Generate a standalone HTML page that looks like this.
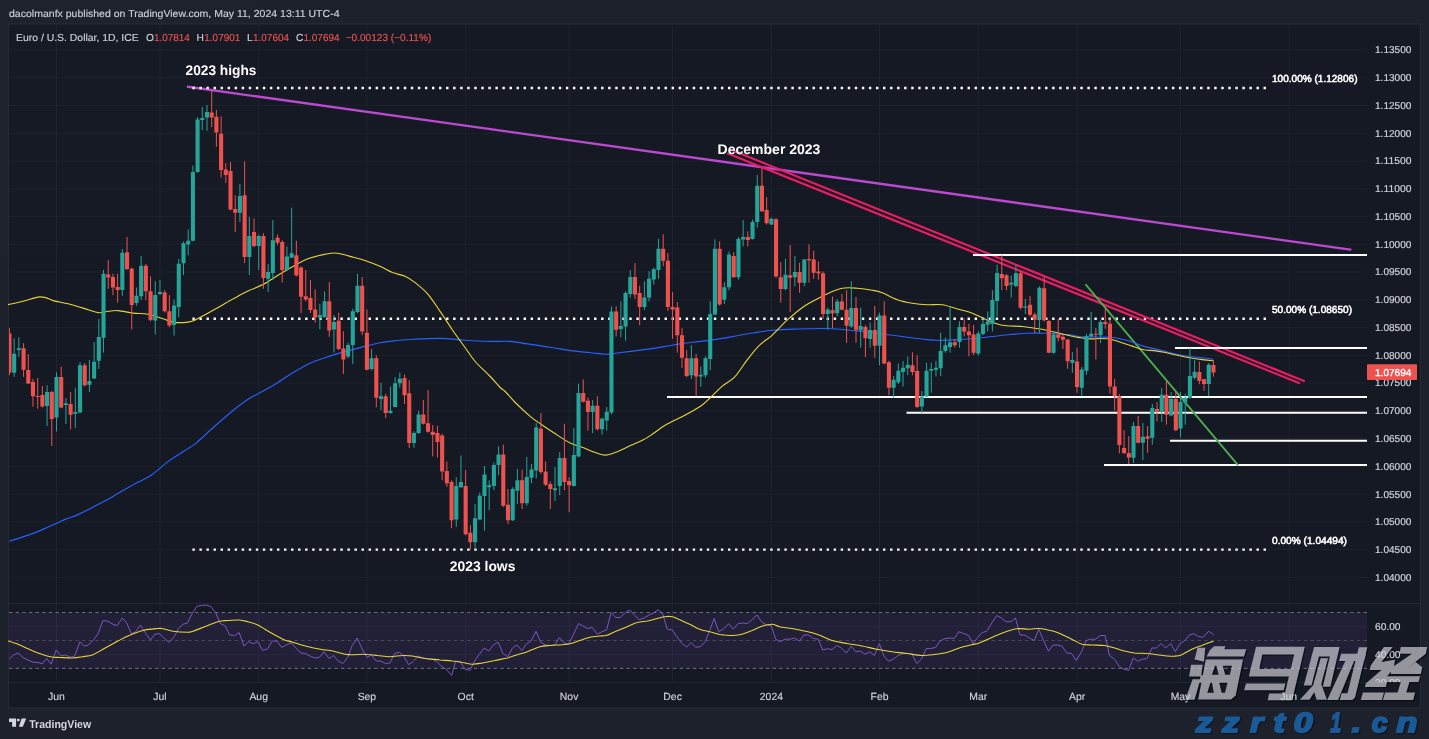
<!DOCTYPE html>
<html><head><meta charset="utf-8"><title>EURUSD chart</title>
<style>html,body{margin:0;padding:0;background:#1e222d;overflow:hidden}body{width:1429px;height:739px;position:relative;font-family:"Liberation Sans",sans-serif}</style></head>
<body>
<svg width="1429" height="739" viewBox="0 0 1429 739" style="position:absolute;left:0;top:0;display:block;will-change:transform;opacity:0.999" font-family="Liberation Sans, sans-serif" text-rendering="geometricPrecision">
<rect x="0" y="0" width="1429" height="739" fill="#1e222d"/>
<rect x="8.6" y="24.0" width="1411.8000000000002" height="684.0" fill="#161a25" stroke="#2a2e39" stroke-width="1"/>
<path d="M9,50.00H1367 M9,77.76H1367 M9,105.52H1367 M9,133.28H1367 M9,161.04H1367 M9,188.80H1367 M9,216.56H1367 M9,244.32H1367 M9,272.08H1367 M9,299.84H1367 M9,327.60H1367 M9,355.36H1367 M9,383.12H1367 M9,410.88H1367 M9,438.64H1367 M9,466.40H1367 M9,494.16H1367 M9,521.92H1367 M9,549.68H1367 M9,577.44H1367 M9,626.3H1367 M9,654.6H1367" stroke="#1e222d" stroke-width="1" fill="none"/>
<path d="M56.5,25V682.5 M159.97,25V682.5 M258.73,25V682.5 M366.9,25V682.5 M465.66,25V682.5 M569.13,25V682.5 M672.59,25V682.5 M771.36,25V682.5 M879.53,25V682.5 M978.29,25V682.5 M1077.05,25V682.5 M1180.52,25V682.5 M1289.2,25V682.5" stroke="#20242f" stroke-width="1" fill="none"/>
<path d="M9,603.5H1420.4 M9,682.5H1420.4" stroke="#232732" stroke-width="1" fill="none"/>
<rect x="9" y="612.5" width="1358" height="55.89999999999998" fill="#7e57c2" fill-opacity="0.12"/>
<path d="M9,612.5H1367 M9,668.4H1367" stroke="#787b86" stroke-width="1" stroke-dasharray="3.4,3.24" fill="none" opacity="0.9"/>
<path d="M9,640.5H1367" stroke="#787b86" stroke-width="1" stroke-dasharray="3.4,3.24" fill="none" opacity="0.45"/>
<path d="M187.9,86.8L1350.4,249.6" stroke="#bc4bd0" stroke-width="2.4" fill="none" stroke-linecap="round"/>
<path d="M192.4,88.0H1266 M192.4,318.7H1266 M192.4,549.6H1266" stroke="#ffffff" stroke-width="2.4" stroke-dasharray="2.4,4.647" fill="none"/>
<path d="M733.9,151L1304,381 M728,153.6L1299,383" stroke="#e91e63" stroke-width="2.2" fill="none" stroke-linecap="round"/>
<path d="M973,255.0H1367 M1175,348.1H1367 M667,397.1H1367 M906.5,412.7H1367 M1170,440.8H1367 M1104,465.1H1367" stroke="#ffffff" stroke-width="2" fill="none"/>
<path d="M1086,284.8L1237.6,464.7" stroke="#4caf50" stroke-width="1.8" fill="none" stroke-linecap="round"/>
<path d="M9.4,541.3 C12.7,540.2 23.4,536.9 29.0,534.9 C34.6,532.9 38.3,531.4 43.0,529.4 C47.7,527.4 53.2,524.7 57.0,523.0 C60.8,521.3 62.2,520.5 65.7,519.1 C69.2,517.7 73.0,516.8 78.0,514.6 C83.0,512.4 89.7,508.8 95.5,505.8 C101.3,502.8 107.2,499.7 113.0,496.4 C118.8,493.1 124.1,489.8 130.5,486.2 C136.9,482.6 145.1,479.1 151.5,474.9 C157.9,470.7 162.2,465.8 169.0,460.9 C175.8,456.0 187.5,449.1 192.6,445.6 C197.7,442.1 195.7,443.4 199.5,440.0 C203.4,436.6 210.2,430.2 215.8,425.3 C221.4,420.3 227.9,414.6 233.3,410.2 C238.8,405.9 244.2,401.8 248.4,399.0 C252.5,396.2 254.2,395.8 258.4,393.5 C262.5,391.2 268.0,388.5 273.4,385.2 C278.8,381.9 285.1,377.5 290.9,373.9 C296.8,370.4 303.0,366.5 308.5,363.9 C313.9,361.3 318.0,360.0 323.5,358.2 C328.9,356.3 334.1,354.6 341.0,352.6 C347.9,350.7 358.5,348.1 365.0,346.4 C371.5,344.7 375.0,343.6 380.0,342.7 C385.0,341.7 389.2,341.3 395.0,340.7 C400.9,340.1 407.6,339.5 415.1,339.2 C422.6,338.8 431.8,338.3 440.1,338.4 C448.5,338.6 456.8,339.7 465.2,340.2 C473.5,340.7 482.7,341.2 490.2,341.4 C497.7,341.6 504.0,341.0 510.2,341.4 C516.5,341.8 520.7,342.9 527.7,343.9 C534.8,345.0 545.3,346.5 552.8,347.7 C560.3,348.9 566.6,350.1 572.8,350.9 C579.1,351.8 584.9,352.1 590.3,352.7 C595.8,353.2 601.2,354.1 605.4,354.2 C609.5,354.3 611.2,353.7 615.4,353.2 C619.5,352.7 624.6,352.1 630.4,351.4 C636.2,350.7 644.6,349.8 650.4,348.9 C656.3,348.1 660.0,347.4 665.5,346.4 C670.9,345.5 677.1,344.3 683.0,343.4 C688.8,342.6 694.0,342.3 700.5,341.4 C707.0,340.6 715.9,339.4 722.0,338.4 C728.1,337.5 731.6,336.7 737.0,335.8 C742.4,334.8 748.7,333.7 754.5,332.8 C760.4,331.8 765.0,330.9 772.1,330.3 C779.2,329.6 788.8,329.3 797.1,329.0 C805.5,328.7 814.6,328.4 822.2,328.5 C829.7,328.6 835.5,329.0 842.2,329.5 C848.9,330.0 855.5,330.8 862.2,331.5 C868.9,332.3 875.6,333.2 882.2,334.0 C888.9,334.8 895.6,335.7 902.3,336.5 C908.9,337.3 916.0,338.4 922.3,339.0 C928.6,339.6 933.6,340.2 939.8,340.3 C946.1,340.4 953.6,339.9 959.9,339.5 C966.1,339.2 972.0,338.8 977.4,338.3 C982.8,337.8 987.0,337.1 992.4,336.5 C997.8,335.9 1004.1,335.1 1009.9,334.5 C1015.8,334.0 1021.2,333.5 1027.5,333.3 C1033.7,333.1 1041.2,333.1 1047.5,333.3 C1053.7,333.5 1061.2,334.3 1065.0,334.5 C1068.8,334.7 1067.6,334.3 1070.1,334.7 C1072.5,335.0 1076.2,336.3 1079.6,336.7 C1083.0,337.0 1086.8,336.8 1090.2,336.8 C1093.7,336.9 1096.9,337.1 1100.3,337.2 C1103.7,337.2 1107.0,336.9 1110.4,337.2 C1113.7,337.5 1117.1,338.2 1120.5,338.9 C1123.8,339.6 1126.6,340.1 1130.5,341.4 C1134.5,342.6 1140.1,345.2 1144.0,346.4 C1147.9,347.6 1150.7,347.8 1154.1,348.6 C1157.4,349.4 1160.2,350.1 1164.1,351.1 C1168.1,352.1 1173.1,353.5 1177.6,354.5 C1182.0,355.4 1186.5,356.2 1191.0,356.8 C1195.5,357.4 1200.7,357.6 1204.4,358.0 C1208.2,358.4 1211.9,359.1 1213.3,359.4" stroke="#2962ff" stroke-width="1.15" fill="none" stroke-linejoin="round"/>
<path d="M8.0,304.6 C10.5,304.0 18.0,302.6 23.0,301.3 C28.0,300.1 34.3,297.7 38.0,297.1 C41.8,296.4 43.1,297.0 45.6,297.6 C48.1,298.1 49.3,299.5 53.1,300.6 C56.8,301.6 63.1,302.6 68.1,303.8 C73.1,305.1 78.1,306.6 83.1,308.1 C88.1,309.5 94.0,312.0 98.1,312.6 C102.3,313.1 104.8,311.7 108.2,311.3 C111.5,311.0 114.0,310.3 118.2,310.6 C122.3,310.9 128.2,312.5 133.2,313.1 C138.2,313.7 143.2,313.4 148.2,314.3 C153.2,315.3 159.1,317.6 163.2,318.8 C167.4,320.1 169.9,321.5 173.2,322.1 C176.6,322.7 180.1,322.7 183.3,322.6 C186.4,322.5 189.1,322.3 192.0,321.3 C194.9,320.4 196.8,319.2 200.8,317.1 C204.8,315.0 210.4,311.9 215.8,308.8 C221.2,305.8 227.9,301.8 233.3,298.8 C238.8,295.8 243.4,293.2 248.4,290.8 C253.4,288.4 258.4,286.9 263.4,284.3 C268.4,281.7 273.4,278.0 278.4,275.0 C283.4,272.0 288.4,269.0 293.4,266.3 C298.4,263.5 302.2,260.8 308.5,258.6 C314.7,256.5 325.6,254.0 331.0,253.3 C336.4,252.5 337.2,253.3 341.0,254.0 C344.8,254.7 349.5,256.2 353.5,257.3 C357.5,258.3 360.6,258.9 365.0,260.4 C369.4,261.9 375.4,264.3 380.0,266.3 C384.6,268.3 388.4,270.9 392.5,272.6 C396.7,274.2 401.3,274.7 405.1,276.3 C408.8,278.0 411.3,279.7 415.1,282.6 C418.8,285.5 423.4,289.1 427.6,293.9 C431.8,298.7 435.9,305.3 440.1,311.4 C444.3,317.4 448.5,324.1 452.6,330.2 C456.8,336.2 461.4,342.5 465.2,347.7 C468.9,352.9 471.0,356.7 475.2,361.5 C479.3,366.3 486.0,372.1 490.2,376.5 C494.4,380.8 497.7,385.0 500.2,387.5 C502.7,390.0 502.7,389.0 505.2,391.5 C507.7,394.0 511.1,398.4 515.2,402.5 C519.4,406.7 526.1,412.8 530.2,416.3 C534.4,419.9 536.1,420.9 540.3,423.8 C544.4,426.7 550.3,430.6 555.3,433.8 C560.3,437.1 565.7,440.8 570.3,443.1 C574.9,445.4 578.7,446.0 582.8,447.6 C587.0,449.2 591.5,451.4 595.3,452.6 C599.2,453.9 602.4,455.3 606.1,455.1 C609.9,454.9 613.8,453.0 617.9,451.4 C621.9,449.8 626.2,447.5 630.4,445.6 C634.6,443.7 639.2,442.1 642.9,440.1 C646.7,438.1 649.2,436.3 652.9,433.8 C656.7,431.3 660.4,428.0 665.5,425.1 C670.5,422.2 677.1,419.4 683.0,416.3 C688.8,413.2 695.9,409.4 700.5,406.3 C705.1,403.2 706.9,400.9 710.5,397.5 C714.1,394.2 718.0,389.8 722.0,386.4 C726.0,383.0 730.3,381.6 734.5,377.2 C738.7,372.8 742.9,365.5 747.0,360.2 C751.2,354.8 755.4,349.3 759.6,345.2 C763.7,341.0 767.5,339.4 772.1,335.3 C776.7,331.1 782.1,324.8 787.1,320.2 C792.1,315.7 797.1,311.3 802.1,307.7 C807.1,304.2 812.6,301.5 817.1,299.0 C821.7,296.5 825.5,294.5 829.7,292.7 C833.8,290.9 837.6,288.9 842.2,288.2 C846.8,287.4 852.2,287.9 857.2,288.2 C862.2,288.5 868.1,289.4 872.2,290.2 C876.4,290.9 878.1,291.1 882.2,292.7 C886.4,294.3 892.3,298.0 897.3,299.7 C902.3,301.5 907.3,302.4 912.3,303.2 C917.3,304.0 922.3,304.5 927.3,304.7 C932.3,305.0 937.3,304.0 942.3,304.7 C947.3,305.4 952.3,307.6 957.4,309.0 C962.4,310.4 967.4,311.4 972.4,313.2 C977.4,315.1 982.4,318.2 987.4,320.2 C992.4,322.2 996.6,324.2 1002.4,325.2 C1008.3,326.3 1016.2,325.9 1022.5,326.5 C1028.7,327.1 1034.1,328.0 1040.0,329.0 C1045.8,330.0 1052.5,331.6 1057.5,332.8 C1062.5,333.9 1066.4,335.0 1070.1,335.8 C1073.8,336.7 1076.2,337.1 1079.6,337.6 C1083.0,338.1 1086.8,338.7 1090.2,338.9 C1093.7,339.0 1096.9,338.5 1100.3,338.5 C1103.7,338.6 1107.0,338.6 1110.4,339.2 C1113.7,339.8 1117.1,341.2 1120.5,342.2 C1123.8,343.3 1126.6,344.3 1130.5,345.6 C1134.5,346.8 1140.1,348.9 1144.0,349.8 C1147.9,350.6 1150.7,350.2 1154.1,350.6 C1157.4,351.0 1160.2,351.5 1164.1,352.3 C1168.1,353.1 1173.1,354.4 1177.6,355.3 C1182.0,356.3 1186.5,357.2 1191.0,358.0 C1195.5,358.7 1200.7,359.5 1204.4,359.9 C1208.2,360.4 1211.9,360.6 1213.3,360.8" stroke="#e9d63a" stroke-width="1.1" fill="none" stroke-linejoin="round"/>
<g clip-path="url(#cp)">
<path d="M14.17,338.3V376.9 M18.88,337.3V356.8 M47.09,385.2V426.0 M56.50,372.2V431.5 M65.91,397.9V424.0 M75.31,387.8V427.8 M80.02,362.1V413.4 M89.42,360.0V391.9 M94.12,342.0V378.9 M98.83,319.0V368.9 M103.53,270.0V352.6 M122.34,249.0V295.8 M136.45,287.5V305.8 M141.15,256.0V300.1 M155.26,281.3V334.6 M159.97,280.0V295.1 M174.07,299.6V335.6 M178.78,259.0V317.1 M183.48,241.5V275.0 M188.18,229.5V255.3 M192.89,165.6V241.5 M197.59,117.0V172.6 M202.29,107.0V130.1 M207.00,105.0V130.8 M239.92,183.9V222.0 M249.32,216.9V275.0 M258.73,234.5V270.0 M268.13,263.8V292.1 M272.84,220.2V280.0 M286.95,246.5V271.3 M291.65,207.7V257.8 M319.87,303.8V329.4 M324.57,291.3V317.6 M333.98,315.1V352.6 M348.09,342.6V358.2 M352.79,308.8V363.9 M357.49,273.8V313.1 M371.60,348.9V370.2 M381.01,382.7V410.1 M390.41,386.5V413.8 M395.12,377.2V407.5 M399.82,372.7V387.7 M413.93,431.3V447.6 M418.63,410.8V433.8 M456.26,477.2V527.0 M460.96,455.6V487.7 M475.07,503.9V547.8 M479.77,492.7V520.2 M484.47,465.9V530.7 M489.18,480.2V510.2 M493.88,462.6V490.2 M498.58,446.4V475.2 M512.69,487.2V521.0 M517.39,468.9V503.9 M526.80,456.9V505.7 M531.50,463.9V483.2 M536.21,423.1V478.4 M555.02,467.1V500.9 M559.72,452.1V495.2 M573.83,428.1V486.4 M578.53,383.8V457.1 M592.64,400.0V433.1 M602.05,417.6V434.6 M606.75,407.0V430.6 M611.45,306.4V414.3 M620.86,301.4V337.2 M625.56,291.3V340.7 M630.27,270.1V297.6 M644.38,281.3V310.1 M649.08,271.3V301.4 M653.78,267.6V284.6 M658.48,238.8V278.8 M691.41,345.2V379.0 M700.81,366.5V386.8 M705.51,356.4V377.7 M710.22,301.4V370.2 M714.92,239.3V315.1 M724.33,282.2V304.0 M729.03,251.4V290.2 M738.44,237.1V279.7 M743.14,220.1V246.4 M752.54,219.6V239.6 M757.25,175.0V227.6 M771.36,217.6V225.1 M785.47,258.9V290.2 M794.87,255.9V286.4 M804.28,258.9V286.4 M827.79,307.7V329.5 M837.20,299.0V316.5 M851.31,281.3V327.8 M860.71,307.6V347.7 M870.12,322.6V347.7 M879.53,312.6V365.2 M893.63,376.0V397.7 M898.34,363.4V384.0 M903.04,360.9V386.5 M907.74,356.4V375.2 M921.85,391.0V412.8 M926.56,362.7V397.2 M931.26,362.7V392.7 M935.96,360.9V376.5 M940.66,332.8V376.0 M945.37,337.6V352.7 M950.07,307.1V352.7 M959.48,321.4V347.7 M978.29,331.4V355.7 M982.99,317.6V335.3 M987.69,311.4V331.5 M992.40,290.2V331.5 M997.10,264.7V316.5 M1011.21,275.7V297.7 M1015.91,265.2V287.2 M1025.32,299.0V314.0 M1039.43,286.4V332.8 M1053.54,331.4V353.9 M1072.35,352.0V372.7 M1081.75,366.8V395.7 M1086.46,333.8V375.0 M1091.16,312.0V337.2 M1100.57,320.1V343.1 M1133.49,421.9V462.9 M1142.89,423.1V460.0 M1152.30,404.1V444.6 M1161.71,388.1V421.9 M1171.11,392.0V416.3 M1180.52,392.0V437.7 M1185.22,393.7V424.7 M1189.92,348.1V398.7 M1194.63,360.1V379.4 M1208.74,363.1V396.2" stroke="#26a69a" stroke-width="1.0" fill="none"/>
<path d="M9.47,328.2V375.1 M23.58,343.2V376.9 M28.28,354.1V384.0 M32.98,378.9V406.7 M37.69,378.1V408.8 M42.39,386.0V407.5 M51.80,390.7V446.0 M61.20,366.7V408.3 M70.61,391.9V429.5 M84.72,363.0V386.5 M108.23,260.0V288.8 M112.94,273.8V295.1 M117.64,273.8V302.6 M127.05,237.0V270.0 M131.75,267.5V329.4 M145.86,264.0V300.1 M150.56,276.3V321.3 M164.67,290.1V312.6 M169.37,295.1V327.1 M211.70,90.5V127.1 M216.40,110.0V146.8 M221.11,116.3V177.6 M225.81,163.1V183.1 M230.51,162.1V210.2 M235.21,195.2V232.0 M244.62,161.4V263.0 M254.03,218.5V247.2 M263.43,233.2V288.8 M277.54,234.5V245.2 M282.24,240.2V282.5 M296.35,240.7V276.3 M301.06,266.3V313.1 M305.76,270.0V301.3 M310.46,280.0V313.1 M315.17,289.3V322.6 M329.27,282.0V336.9 M338.68,312.6V350.1 M343.38,331.4V373.9 M362.19,277.0V335.1 M366.90,309.6V370.2 M376.30,355.2V407.3 M385.71,393.8V418.1 M404.52,374.5V404.0 M409.23,380.2V448.1 M423.33,400.0V424.6 M428.04,390.0V432.6 M432.74,425.1V456.4 M437.44,425.8V457.6 M442.15,433.8V480.2 M446.85,461.4V486.9 M451.55,480.2V528.2 M465.66,470.1V535.2 M470.36,525.2V549.5 M503.29,444.6V506.9 M507.99,488.9V524.0 M522.10,469.6V509.0 M540.91,413.1V473.9 M545.61,461.4V485.9 M550.32,481.4V509.0 M564.42,423.8V490.2 M569.13,477.2V512.2 M583.24,379.3V402.5 M587.94,397.5V430.6 M597.35,396.3V430.6 M616.16,306.4V336.4 M634.97,263.1V298.9 M639.67,285.8V325.2 M663.19,234.3V266.3 M667.89,253.0V310.9 M672.59,292.1V338.9 M677.30,302.1V352.7 M682.00,328.2V367.7 M686.70,350.2V377.2 M696.11,353.9V396.3 M719.62,241.3V305.6 M733.73,252.1V277.7 M747.84,231.4V246.4 M761.95,168.8V212.1 M766.65,197.1V224.6 M776.06,218.1V277.7 M780.76,262.2V302.7 M790.17,245.1V312.0 M799.57,262.7V292.7 M808.98,244.4V282.7 M813.68,250.9V278.9 M818.39,261.4V279.7 M823.09,271.4V319.0 M832.50,296.5V328.3 M841.90,294.0V310.2 M846.60,290.2V342.8 M856.01,297.1V342.7 M865.42,325.1V357.2 M874.82,305.8V357.7 M884.23,301.3V364.4 M888.93,360.7V395.2 M912.45,352.2V375.2 M917.15,355.2V407.8 M954.77,338.9V347.7 M964.18,318.1V336.4 M968.88,323.9V356.4 M973.59,325.1V355.2 M1001.80,255.1V290.2 M1006.51,273.9V290.2 M1020.62,271.4V309.5 M1030.02,296.0V316.5 M1034.72,312.7V332.8 M1044.13,276.4V321.5 M1048.83,320.1V353.2 M1058.24,318.9V341.4 M1062.94,334.7V348.9 M1067.64,338.9V368.8 M1077.05,347.7V392.8 M1095.86,327.9V359.4 M1105.27,307.8V328.8 M1109.97,317.9V393.7 M1114.67,379.1V410.5 M1119.38,394.0V453.3 M1124.08,430.1V454.1 M1128.78,436.2V464.2 M1138.19,416.0V443.2 M1147.60,426.1V452.8 M1157.00,402.1V421.4 M1166.41,381.1V424.7 M1175.81,392.0V431.0 M1199.33,361.5V384.2 M1204.03,378.8V390.9 M1213.44,360.2V376.7" stroke="#ef5350" stroke-width="1.0" fill="none"/>
<path d="M12.12,353.7h4.1V372.7h-4.1z M16.83,348.2h4.1V349.9h-4.1z M45.04,392.0h4.1V406.1h-4.1z M54.45,376.9h4.1V417.6h-4.1z M63.86,403.3h4.1V405.0h-4.1z M73.26,412.0h4.1V413.7h-4.1z M77.97,365.2h4.1V412.5h-4.1z M87.37,381.0h4.1V384.8h-4.1z M92.07,361.8h4.1V378.6h-4.1z M96.78,336.9h4.1V360.8h-4.1z M101.48,273.8h4.1V337.8h-4.1z M120.29,252.8h4.1V290.1h-4.1z M134.40,295.8h4.1V303.1h-4.1z M139.10,265.8h4.1V296.3h-4.1z M153.21,295.1h4.1V320.6h-4.1z M157.92,292.1h4.1V294.1h-4.1z M172.02,305.6h4.1V325.1h-4.1z M176.73,263.8h4.1V307.1h-4.1z M181.43,243.2h4.1V263.3h-4.1z M186.13,240.7h4.1V244.5h-4.1z M190.84,172.1h4.1V240.7h-4.1z M195.54,119.6h4.1V172.1h-4.1z M200.24,118.0h4.1V120.1h-4.1z M204.95,112.0h4.1V117.5h-4.1z M237.87,195.9h4.1V212.7h-4.1z M247.27,236.0h4.1V257.0h-4.1z M256.68,236.0h4.1V246.0h-4.1z M266.08,272.0h4.1V278.8h-4.1z M270.79,240.2h4.1V273.0h-4.1z M284.90,256.5h4.1V270.0h-4.1z M289.60,253.3h4.1V257.8h-4.1z M317.82,315.1h4.1V317.6h-4.1z M322.52,301.3h4.1V317.1h-4.1z M331.93,322.1h4.1V329.6h-4.1z M346.04,345.1h4.1V356.4h-4.1z M350.74,311.3h4.1V345.1h-4.1z M355.44,285.8h4.1V312.1h-4.1z M369.55,358.2h4.1V369.0h-4.1z M378.96,396.3h4.1V399.0h-4.1z M388.36,410.8h4.1V413.1h-4.1z M393.07,383.2h4.1V407.0h-4.1z M397.77,378.8h4.1V383.2h-4.1z M411.88,433.1h4.1V443.1h-4.1z M416.58,414.6h4.1V433.1h-4.1z M454.21,485.9h4.1V519.5h-4.1z M458.91,481.9h4.1V487.2h-4.1z M473.02,518.2h4.1V542.3h-4.1z M477.72,495.7h4.1V519.5h-4.1z M482.42,474.4h4.1V495.9h-4.1z M487.13,485.2h4.1V487.2h-4.1z M491.83,465.1h4.1V485.9h-4.1z M496.53,454.6h4.1V465.1h-4.1z M510.64,488.9h4.1V520.2h-4.1z M515.34,480.2h4.1V490.7h-4.1z M524.75,476.9h4.1V503.2h-4.1z M529.45,469.6h4.1V477.7h-4.1z M534.16,427.6h4.1V470.6h-4.1z M552.97,488.2h4.1V490.2h-4.1z M557.67,458.1h4.1V485.9h-4.1z M571.78,455.1h4.1V485.9h-4.1z M576.48,393.0h4.1V456.4h-4.1z M590.59,405.8h4.1V412.1h-4.1z M600.00,418.8h4.1V429.3h-4.1z M604.70,411.8h4.1V420.6h-4.1z M609.40,311.4h4.1V412.6h-4.1z M618.81,325.9h4.1V328.9h-4.1z M623.51,293.1h4.1V326.4h-4.1z M628.22,277.1h4.1V293.9h-4.1z M642.33,297.6h4.1V307.1h-4.1z M647.03,278.8h4.1V297.6h-4.1z M651.73,269.3h4.1V279.6h-4.1z M656.43,248.8h4.1V270.1h-4.1z M689.36,358.2h4.1V375.2h-4.1z M698.76,374.7h4.1V376.5h-4.1z M703.46,358.2h4.1V375.2h-4.1z M708.17,313.9h4.1V359.0h-4.1z M712.87,248.8h4.1V314.6h-4.1z M722.28,287.2h4.1V299.7h-4.1z M726.98,254.6h4.1V287.2h-4.1z M736.39,238.9h4.1V277.2h-4.1z M741.09,237.1h4.1V239.6h-4.1z M750.49,222.1h4.1V238.9h-4.1z M755.20,185.8h4.1V222.1h-4.1z M769.31,218.8h4.1V224.6h-4.1z M783.42,274.7h4.1V288.9h-4.1z M792.82,271.9h4.1V277.2h-4.1z M802.23,259.4h4.1V282.7h-4.1z M825.74,309.5h4.1V314.0h-4.1z M835.15,301.5h4.1V313.2h-4.1z M849.26,308.1h4.1V326.5h-4.1z M858.66,325.9h4.1V330.3h-4.1z M868.07,330.1h4.1V339.0h-4.1z M877.48,315.6h4.1V345.7h-4.1z M891.58,379.7h4.1V387.7h-4.1z M896.29,370.7h4.1V382.2h-4.1z M900.99,367.7h4.1V371.9h-4.1z M905.69,364.7h4.1V368.2h-4.1z M919.80,396.5h4.1V406.5h-4.1z M924.51,370.7h4.1V396.5h-4.1z M929.21,368.9h4.1V370.7h-4.1z M933.91,367.7h4.1V369.7h-4.1z M938.61,350.9h4.1V368.2h-4.1z M943.32,345.2h4.1V350.9h-4.1z M948.02,342.2h4.1V346.9h-4.1z M957.43,326.9h4.1V341.9h-4.1z M976.24,333.5h4.1V353.4h-4.1z M980.94,323.9h4.1V334.0h-4.1z M985.64,321.4h4.1V324.7h-4.1z M990.35,300.1h4.1V324.0h-4.1z M995.05,273.0h4.1V301.0h-4.1z M1009.16,282.7h4.1V284.4h-4.1z M1013.86,273.2h4.1V285.9h-4.1z M1023.27,306.5h4.1V307.7h-4.1z M1037.38,287.7h4.1V319.7h-4.1z M1051.49,334.6h4.1V352.7h-4.1z M1070.30,360.1h4.1V362.7h-4.1z M1079.70,369.6h4.1V387.8h-4.1z M1084.41,336.3h4.1V370.8h-4.1z M1089.11,333.8h4.1V336.3h-4.1z M1098.52,322.1h4.1V335.2h-4.1z M1131.44,425.9h4.1V457.8h-4.1z M1140.84,436.8h4.1V442.7h-4.1z M1150.25,407.9h4.1V437.8h-4.1z M1159.66,394.8h4.1V411.8h-4.1z M1169.06,399.0h4.1V415.5h-4.1z M1178.47,402.1h4.1V428.6h-4.1z M1183.17,397.9h4.1V402.6h-4.1z M1187.87,376.1h4.1V397.9h-4.1z M1192.58,371.8h4.1V377.8h-4.1z M1206.69,364.8h4.1V384.1h-4.1z" fill="#26a69a"/>
<path d="M7.42,333.6h4.1V372.6h-4.1z M21.53,348.2h4.1V369.7h-4.1z M26.23,370.0h4.1V383.6h-4.1z M30.93,382.0h4.1V396.2h-4.1z M35.64,396.0h4.1V397.0h-4.1z M40.34,395.1h4.1V406.5h-4.1z M49.75,392.0h4.1V418.9h-4.1z M59.15,376.9h4.1V407.5h-4.1z M68.56,404.1h4.1V414.7h-4.1z M82.67,365.2h4.1V385.3h-4.1z M106.18,274.5h4.1V277.5h-4.1z M110.89,277.0h4.1V287.5h-4.1z M115.59,287.0h4.1V290.1h-4.1z M125.00,252.3h4.1V269.0h-4.1z M129.70,268.8h4.1V305.1h-4.1z M143.81,265.8h4.1V291.3h-4.1z M148.51,291.3h4.1V320.1h-4.1z M162.62,292.6h4.1V311.3h-4.1z M167.32,311.3h4.1V325.6h-4.1z M209.65,112.5h4.1V117.5h-4.1z M214.35,116.8h4.1V132.6h-4.1z M219.06,133.8h4.1V170.1h-4.1z M223.76,169.6h4.1V175.1h-4.1z M228.46,170.9h4.1V209.4h-4.1z M233.16,208.9h4.1V212.7h-4.1z M242.57,195.2h4.1V257.0h-4.1z M251.98,232.0h4.1V246.0h-4.1z M261.38,236.0h4.1V278.0h-4.1z M275.49,237.7h4.1V242.7h-4.1z M280.19,242.0h4.1V270.0h-4.1z M294.30,255.3h4.1V275.5h-4.1z M299.01,267.5h4.1V296.8h-4.1z M303.71,296.3h4.1V299.6h-4.1z M308.41,298.1h4.1V310.1h-4.1z M313.12,309.6h4.1V317.6h-4.1z M327.22,301.3h4.1V330.6h-4.1z M336.63,320.8h4.1V348.9h-4.1z M341.33,348.4h4.1V359.4h-4.1z M360.14,285.8h4.1V331.4h-4.1z M364.85,332.7h4.1V369.7h-4.1z M374.25,358.2h4.1V397.8h-4.1z M383.66,396.3h4.1V413.1h-4.1z M402.47,378.0h4.1V395.3h-4.1z M407.18,393.3h4.1V443.1h-4.1z M421.28,414.6h4.1V423.8h-4.1z M425.99,423.3h4.1V431.8h-4.1z M430.69,431.8h4.1V435.1h-4.1z M435.39,433.1h4.1V442.1h-4.1z M440.10,435.6h4.1V471.4h-4.1z M444.80,470.9h4.1V483.2h-4.1z M449.50,481.9h4.1V520.2h-4.1z M463.61,485.9h4.1V534.2h-4.1z M468.31,532.7h4.1V542.3h-4.1z M501.24,454.6h4.1V505.7h-4.1z M505.94,504.7h4.1V520.2h-4.1z M520.05,480.2h4.1V503.2h-4.1z M538.86,428.8h4.1V472.1h-4.1z M543.56,471.4h4.1V484.7h-4.1z M548.27,483.9h4.1V488.9h-4.1z M562.37,458.1h4.1V481.9h-4.1z M567.08,480.9h4.1V485.2h-4.1z M581.19,393.0h4.1V401.8h-4.1z M585.89,400.8h4.1V412.1h-4.1z M595.30,405.8h4.1V429.3h-4.1z M614.11,311.4h4.1V329.7h-4.1z M632.92,277.1h4.1V294.4h-4.1z M637.62,293.1h4.1V306.9h-4.1z M661.14,248.8h4.1V260.8h-4.1z M665.84,260.8h4.1V307.1h-4.1z M670.54,306.9h4.1V309.6h-4.1z M675.25,307.6h4.1V335.2h-4.1z M679.95,335.2h4.1V357.7h-4.1z M684.65,358.2h4.1V376.0h-4.1z M694.06,358.2h4.1V376.5h-4.1z M717.57,248.8h4.1V304.6h-4.1z M731.68,255.9h4.1V277.2h-4.1z M745.79,237.1h4.1V240.1h-4.1z M759.90,185.8h4.1V211.3h-4.1z M764.60,210.1h4.1V223.3h-4.1z M774.01,219.3h4.1V276.4h-4.1z M778.71,277.2h4.1V288.9h-4.1z M788.12,275.2h4.1V277.7h-4.1z M797.52,271.9h4.1V282.7h-4.1z M806.93,258.9h4.1V260.2h-4.1z M811.63,259.4h4.1V272.7h-4.1z M816.34,271.4h4.1V273.2h-4.1z M821.04,273.2h4.1V314.0h-4.1z M830.45,310.2h4.1V313.2h-4.1z M839.85,301.5h4.1V309.7h-4.1z M844.55,309.7h4.1V325.7h-4.1z M853.96,308.1h4.1V329.8h-4.1z M863.37,327.1h4.1V338.3h-4.1z M872.77,330.1h4.1V345.7h-4.1z M882.18,315.6h4.1V363.4h-4.1z M886.88,362.2h4.1V387.7h-4.1z M910.40,365.2h4.1V371.9h-4.1z M915.10,370.9h4.1V407.0h-4.1z M952.72,342.2h4.1V345.2h-4.1z M962.13,326.9h4.1V331.5h-4.1z M966.83,331.4h4.1V335.3h-4.1z M971.54,334.4h4.1V352.7h-4.1z M999.75,273.9h4.1V278.2h-4.1z M1004.46,275.2h4.1V285.9h-4.1z M1018.57,273.2h4.1V307.7h-4.1z M1027.97,304.7h4.1V314.7h-4.1z M1032.67,314.5h4.1V319.7h-4.1z M1042.08,288.2h4.1V320.2h-4.1z M1046.78,320.9h4.1V352.7h-4.1z M1056.19,334.6h4.1V337.8h-4.1z M1060.89,336.8h4.1V339.8h-4.1z M1065.60,339.6h4.1V361.3h-4.1z M1075.00,361.5h4.1V387.0h-4.1z M1093.81,333.8h4.1V334.8h-4.1z M1103.22,322.1h4.1V324.1h-4.1z M1107.92,323.7h4.1V386.4h-4.1z M1112.62,386.4h4.1V396.2h-4.1z M1117.33,396.2h4.1V444.9h-4.1z M1122.03,447.9h4.1V453.0h-4.1z M1126.73,453.0h4.1V457.5h-4.1z M1136.14,425.9h4.1V442.7h-4.1z M1145.55,436.2h4.1V438.7h-4.1z M1154.95,409.1h4.1V411.8h-4.1z M1164.36,394.8h4.1V414.7h-4.1z M1173.76,399.0h4.1V430.3h-4.1z M1197.28,371.9h4.1V381.1h-4.1z M1201.98,379.2h4.1V383.9h-4.1z M1211.39,365.1h4.1V372.5h-4.1z" fill="#ef5350"/>
</g>
<defs><clipPath id="cp"><rect x="9" y="25" width="1358" height="578.5"/></clipPath></defs>
<path d="M9.2,659.2 L13.5,655.0 L18.0,653.0 L23.0,657.5 L28.0,660.0 L33.0,662.2 L38.0,662.5 L42.5,663.7 L46.7,658.5 L51.2,664.2 L56.2,650.0 L61.0,656.0 L65.5,655.0 L70.5,657.2 L74.7,656.0 L79.9,641.7 L84.2,646.2 L88.4,645.0 L94.2,639.2 L98.4,633.0 L102.9,620.5 L107.9,621.2 L112.9,624.2 L117.2,625.5 L122.4,618.0 L126.7,623.0 L131.4,633.7 L135.9,631.7 L140.4,625.0 L145.4,633.0 L150.4,640.0 L154.9,634.2 L159.6,633.7 L164.1,638.0 L169.1,642.5 L173.6,637.5 L178.4,628.7 L182.9,624.2 L187.4,623.0 L192.4,613.0 L197.1,606.2 L201.6,605.5 L206.6,605.0 L211.1,606.7 L215.8,613.0 L220.3,623.5 L224.8,625.5 L229.8,635.0 L234.6,635.5 L239.1,632.5 L244.1,646.2 L248.6,641.7 L253.3,643.7 L257.8,641.7 L262.8,650.5 L267.8,648.7 L272.3,641.0 L277.0,641.2 L281.8,647.5 L286.5,644.7 L291.3,643.0 L295.8,648.0 L300.8,653.0 L305.3,653.5 L310.3,656.2 L314.8,658.0 L319.5,657.2 L324.0,651.7 L329.0,658.5 L333.5,655.5 L338.3,661.2 L343.0,663.5 L347.7,657.5 L352.2,645.5 L357.2,638.0 L361.7,648.0 L367.0,657.5 L371.2,655.0 L376.2,661.0 L380.7,661.0 L385.5,663.5 L390.0,663.0 L394.5,653.5 L399.2,652.2 L403.7,656.0 L408.7,664.7 L413.2,661.7 L418.0,656.0 L423.0,658.0 L427.5,658.7 L432.4,659.2 L436.9,661.7 L441.9,666.7 L446.2,669.2 L451.7,675.4 L455.4,661.7 L459.9,661.2 L464.9,669.2 L469.9,670.4 L474.9,660.5 L479.4,654.2 L484.2,648.0 L488.7,651.0 L493.7,644.7 L498.2,642.2 L502.9,653.5 L507.9,656.7 L512.4,648.0 L516.9,645.0 L521.9,650.5 L526.6,643.7 L531.1,641.0 L536.1,631.2 L540.6,642.2 L545.4,645.0 L549.9,645.5 L554.9,645.0 L559.4,637.5 L564.1,643.0 L568.6,644.2 L573.6,634.2 L578.6,623.5 L583.1,626.0 L587.3,628.5 L592.3,627.5 L597.3,634.2 L601.8,631.7 L606.6,630.0 L611.1,612.5 L615.6,617.5 L620.3,617.5 L625.3,612.5 L629.8,610.0 L634.8,615.5 L639.3,619.7 L644.0,618.0 L649.0,615.0 L653.5,613.0 L658.0,609.7 L662.8,614.2 L667.3,629.2 L672.3,630.0 L676.8,636.7 L681.5,643.0 L686.5,647.2 L691.0,642.5 L695.5,647.2 L700.2,646.7 L705.2,641.7 L709.7,630.5 L714.2,618.5 L718.7,631.7 L724.0,628.5 L728.7,623.7 L733.2,629.2 L738.2,623.5 L742.7,623.0 L747.5,623.5 L752.0,619.7 L757.0,615.0 L761.5,621.7 L766.5,625.0 L771.2,625.5 L775.7,639.2 L780.2,641.7 L785.0,639.2 L789.9,639.2 L794.4,638.0 L799.4,641.0 L803.9,635.0 L808.7,635.0 L813.2,638.5 L818.2,639.2 L822.7,650.0 L827.4,648.7 L831.9,649.7 L836.9,645.5 L841.4,648.0 L846.4,653.0 L851.2,646.2 L855.6,651.7 L860.6,651.0 L865.1,654.2 L869.9,651.7 L874.4,655.5 L879.4,643.7 L883.9,656.0 L888.6,661.2 L893.1,659.2 L898.1,655.5 L902.6,653.7 L907.4,653.5 L911.9,654.2 L916.9,663.5 L921.4,659.2 L926.1,648.7 L930.6,648.5 L935.6,647.5 L940.1,641.0 L944.8,638.7 L949.3,638.0 L954.3,638.5 L958.8,631.7 L963.6,633.5 L968.6,635.5 L973.1,643.7 L977.6,637.5 L982.3,632.5 L986.8,631.2 L991.8,623.0 L996.8,615.5 L1001.3,618.0 L1006.0,621.7 L1011.0,621.7 L1015.5,618.0 L1020.0,635.0 L1024.8,635.0 L1029.3,638.0 L1034.3,640.5 L1038.8,629.2 L1043.5,640.5 L1048.5,651.2 L1053.0,645.0 L1057.5,645.0 L1062.2,646.2 L1066.7,653.0 L1071.7,653.5 L1076.2,660.5 L1081.5,651.7 L1086.2,640.5 L1090.7,639.2 L1095.7,639.2 L1100.2,635.5 L1105.0,635.5 L1109.5,655.5 L1114.5,659.2 L1119.5,666.7 L1123.7,669.2 L1128.7,670.4 L1133.2,658.0 L1137.7,661.2 L1142.4,659.2 L1146.9,658.7 L1151.9,648.0 L1156.4,648.0 L1161.2,643.5 L1165.7,648.0 L1170.7,643.5 L1175.2,651.7 L1179.9,643.7 L1184.4,641.0 L1189.4,635.0 L1193.9,633.7 L1198.7,636.7 L1203.2,637.2 L1208.6,631.2 L1213.6,634.7" stroke="#7e57c2" stroke-width="1" fill="none" stroke-linejoin="round"/>
<path d="M8.0,641.0 C9.7,641.5 14.7,642.9 18.0,644.2 C21.3,645.5 24.7,647.3 28.0,648.7 C31.3,650.2 34.2,651.6 38.0,653.0 C41.7,654.3 46.7,656.0 50.5,656.7 C54.2,657.5 56.7,657.2 60.5,657.5 C64.2,657.7 69.2,658.1 73.0,658.0 C76.7,657.8 79.6,657.2 82.9,656.7 C86.3,656.2 89.6,656.0 92.9,654.7 C96.3,653.5 98.8,651.5 102.9,649.2 C107.1,646.9 113.8,643.2 117.9,641.0 C122.1,638.8 123.7,637.7 127.9,636.0 C132.1,634.2 137.9,631.7 142.9,630.5 C147.9,629.2 154.6,628.8 157.9,628.5 C161.2,628.2 160.4,628.3 162.9,628.7 C165.4,629.2 168.7,630.6 172.9,631.2 C177.0,631.8 184.5,632.2 187.9,632.2 C191.2,632.2 190.4,632.0 192.9,631.2 C195.4,630.4 198.7,629.1 202.9,627.5 C207.0,625.9 213.7,622.9 217.8,621.7 C222.0,620.6 224.3,620.8 227.8,620.5 C231.4,620.2 235.7,619.8 239.1,620.0 C242.4,620.2 244.7,620.9 247.8,621.7 C250.9,622.6 254.5,623.4 257.8,625.0 C261.1,626.5 263.6,628.6 267.8,631.0 C272.0,633.3 278.6,637.3 282.8,639.2 C287.0,641.1 289.0,641.1 292.8,642.2 C296.5,643.3 300.7,644.8 305.3,646.0 C309.9,647.1 315.7,648.4 320.3,649.2 C324.8,650.0 328.6,650.1 332.8,651.0 C336.9,651.8 341.9,653.6 345.2,654.2 C348.6,654.8 349.8,654.7 352.7,654.7 C355.7,654.7 360.3,654.2 362.7,654.2 C365.2,654.2 365.0,654.2 367.5,654.5 C370.0,654.7 373.7,655.1 377.5,655.5 C381.2,655.8 385.8,656.7 390.0,656.7 C394.1,656.7 398.7,655.6 402.5,655.5 C406.2,655.3 408.7,655.5 412.5,656.0 C416.2,656.5 420.4,657.8 425.0,658.5 C429.5,659.1 435.4,659.5 439.9,660.0 C444.5,660.4 448.7,660.5 452.4,661.0 C456.2,661.4 459.1,661.9 462.4,662.5 C465.8,663.0 469.1,664.1 472.4,664.2 C475.8,664.3 478.7,663.6 482.4,663.0 C486.2,662.3 490.7,661.3 494.9,660.5 C499.1,659.6 503.6,658.9 507.4,658.0 C511.1,657.0 514.1,655.7 517.4,654.7 C520.7,653.7 523.6,653.0 527.4,651.7 C531.1,650.4 536.1,647.8 539.9,646.7 C543.6,645.7 546.1,645.8 549.9,645.5 C553.6,645.1 559.0,645.0 562.4,644.7 C565.7,644.4 566.9,644.4 569.8,643.7 C572.8,643.0 576.5,641.6 579.8,640.5 C583.2,639.4 586.5,638.0 589.8,637.2 C593.2,636.5 597.1,636.3 599.8,636.0 C602.5,635.7 603.6,636.2 606.1,635.5 C608.6,634.8 611.3,633.2 614.8,631.7 C618.4,630.3 623.6,628.3 627.3,626.7 C631.1,625.2 634.0,623.4 637.3,622.5 C640.6,621.5 644.0,621.6 647.3,621.0 C650.6,620.3 654.4,619.2 657.3,618.5 C660.2,617.8 662.3,617.0 664.8,616.7 C667.3,616.4 669.8,616.2 672.3,616.7 C674.8,617.2 676.8,618.5 679.8,619.7 C682.7,621.0 686.4,622.6 689.8,624.2 C693.1,625.8 696.4,628.0 699.7,629.2 C703.1,630.5 706.4,630.9 709.7,631.7 C713.1,632.6 717.3,633.9 719.7,634.5 C722.2,635.0 722.5,634.8 724.5,635.0 C726.5,635.1 729.1,635.6 732.0,635.5 C734.9,635.3 738.7,635.1 742.0,634.2 C745.3,633.4 748.6,631.8 752.0,630.5 C755.3,629.1 758.6,627.3 762.0,626.2 C765.3,625.2 769.0,624.1 772.0,624.2 C774.9,624.3 776.1,626.0 779.5,626.7 C782.8,627.4 787.8,627.8 791.9,628.5 C796.1,629.2 800.3,630.0 804.4,631.0 C808.6,631.9 812.3,632.6 816.9,634.2 C821.5,635.8 826.9,638.9 831.9,640.5 C836.9,642.0 841.9,642.5 846.9,643.5 C851.9,644.4 856.9,645.0 861.9,646.0 C866.9,646.9 871.9,648.3 876.9,649.2 C881.9,650.2 886.9,651.0 891.9,651.7 C896.9,652.4 901.9,652.8 906.9,653.5 C911.9,654.1 917.3,655.3 921.9,655.5 C926.4,655.6 930.2,655.0 934.3,654.5 C938.5,654.0 942.7,653.5 946.8,652.5 C951.0,651.4 955.2,649.3 959.3,648.0 C963.5,646.7 968.5,645.5 971.8,644.7 C975.1,643.9 976.0,644.2 979.3,643.0 C982.6,641.8 987.6,639.3 991.8,637.5 C996.0,635.7 1000.1,633.7 1004.3,632.2 C1008.5,630.8 1012.6,629.2 1016.8,628.7 C1020.9,628.2 1025.5,629.3 1029.3,629.2 C1033.0,629.2 1036.3,628.4 1039.3,628.5 C1042.2,628.6 1043.8,629.1 1046.8,629.7 C1049.7,630.4 1053.4,631.1 1056.7,632.2 C1060.1,633.4 1063.8,635.3 1066.7,636.7 C1069.7,638.1 1071.7,639.2 1074.2,640.5 C1076.8,641.7 1079.0,643.5 1082.0,644.2 C1085.0,645.0 1088.2,644.8 1092.0,645.0 C1095.7,645.2 1100.7,645.0 1104.5,645.5 C1108.2,646.0 1111.1,647.0 1114.5,648.0 C1117.8,648.9 1121.1,650.1 1124.5,651.0 C1127.8,651.8 1130.7,652.5 1134.5,653.0 C1138.2,653.4 1143.2,653.2 1146.9,653.5 C1150.7,653.7 1153.6,654.3 1156.9,654.7 C1160.3,655.1 1164.0,655.7 1166.9,656.0 C1169.8,656.2 1171.9,656.4 1174.4,656.2 C1176.9,656.0 1179.0,655.9 1181.9,654.7 C1184.8,653.5 1188.6,650.8 1191.9,649.2 C1195.2,647.7 1198.3,646.8 1201.9,645.5 C1205.5,644.1 1211.7,641.9 1213.6,641.2" stroke="#e9d63a" stroke-width="1.1" fill="none" stroke-linejoin="round"/>
<text x="1375" y="53.3" font-size="10.0" fill="#d0d3db" stroke="#d0d3db" stroke-width="0.2" font-weight="normal" text-anchor="start" textLength="36.4" lengthAdjust="spacingAndGlyphs" >1.13500</text>
<text x="1375" y="81.1" font-size="10.0" fill="#d0d3db" stroke="#d0d3db" stroke-width="0.2" font-weight="normal" text-anchor="start" textLength="36.4" lengthAdjust="spacingAndGlyphs" >1.13000</text>
<text x="1375" y="108.8" font-size="10.0" fill="#d0d3db" stroke="#d0d3db" stroke-width="0.2" font-weight="normal" text-anchor="start" textLength="36.4" lengthAdjust="spacingAndGlyphs" >1.12500</text>
<text x="1375" y="136.6" font-size="10.0" fill="#d0d3db" stroke="#d0d3db" stroke-width="0.2" font-weight="normal" text-anchor="start" textLength="36.4" lengthAdjust="spacingAndGlyphs" >1.12000</text>
<text x="1375" y="164.3" font-size="10.0" fill="#d0d3db" stroke="#d0d3db" stroke-width="0.2" font-weight="normal" text-anchor="start" textLength="36.4" lengthAdjust="spacingAndGlyphs" >1.11500</text>
<text x="1375" y="192.1" font-size="10.0" fill="#d0d3db" stroke="#d0d3db" stroke-width="0.2" font-weight="normal" text-anchor="start" textLength="36.4" lengthAdjust="spacingAndGlyphs" >1.11000</text>
<text x="1375" y="219.9" font-size="10.0" fill="#d0d3db" stroke="#d0d3db" stroke-width="0.2" font-weight="normal" text-anchor="start" textLength="36.4" lengthAdjust="spacingAndGlyphs" >1.10500</text>
<text x="1375" y="247.6" font-size="10.0" fill="#d0d3db" stroke="#d0d3db" stroke-width="0.2" font-weight="normal" text-anchor="start" textLength="36.4" lengthAdjust="spacingAndGlyphs" >1.10000</text>
<text x="1375" y="275.4" font-size="10.0" fill="#d0d3db" stroke="#d0d3db" stroke-width="0.2" font-weight="normal" text-anchor="start" textLength="36.4" lengthAdjust="spacingAndGlyphs" >1.09500</text>
<text x="1375" y="303.1" font-size="10.0" fill="#d0d3db" stroke="#d0d3db" stroke-width="0.2" font-weight="normal" text-anchor="start" textLength="36.4" lengthAdjust="spacingAndGlyphs" >1.09000</text>
<text x="1375" y="330.9" font-size="10.0" fill="#d0d3db" stroke="#d0d3db" stroke-width="0.2" font-weight="normal" text-anchor="start" textLength="36.4" lengthAdjust="spacingAndGlyphs" >1.08500</text>
<text x="1375" y="358.7" font-size="10.0" fill="#d0d3db" stroke="#d0d3db" stroke-width="0.2" font-weight="normal" text-anchor="start" textLength="36.4" lengthAdjust="spacingAndGlyphs" >1.08000</text>
<text x="1375" y="386.4" font-size="10.0" fill="#d0d3db" stroke="#d0d3db" stroke-width="0.2" font-weight="normal" text-anchor="start" textLength="36.4" lengthAdjust="spacingAndGlyphs" >1.07500</text>
<text x="1375" y="414.2" font-size="10.0" fill="#d0d3db" stroke="#d0d3db" stroke-width="0.2" font-weight="normal" text-anchor="start" textLength="36.4" lengthAdjust="spacingAndGlyphs" >1.07000</text>
<text x="1375" y="441.9" font-size="10.0" fill="#d0d3db" stroke="#d0d3db" stroke-width="0.2" font-weight="normal" text-anchor="start" textLength="36.4" lengthAdjust="spacingAndGlyphs" >1.06500</text>
<text x="1375" y="469.7" font-size="10.0" fill="#d0d3db" stroke="#d0d3db" stroke-width="0.2" font-weight="normal" text-anchor="start" textLength="36.4" lengthAdjust="spacingAndGlyphs" >1.06000</text>
<text x="1375" y="497.5" font-size="10.0" fill="#d0d3db" stroke="#d0d3db" stroke-width="0.2" font-weight="normal" text-anchor="start" textLength="36.4" lengthAdjust="spacingAndGlyphs" >1.05500</text>
<text x="1375" y="525.2" font-size="10.0" fill="#d0d3db" stroke="#d0d3db" stroke-width="0.2" font-weight="normal" text-anchor="start" textLength="36.4" lengthAdjust="spacingAndGlyphs" >1.05000</text>
<text x="1375" y="553.0" font-size="10.0" fill="#d0d3db" stroke="#d0d3db" stroke-width="0.2" font-weight="normal" text-anchor="start" textLength="36.4" lengthAdjust="spacingAndGlyphs" >1.04500</text>
<text x="1375" y="580.7" font-size="10.0" fill="#d0d3db" stroke="#d0d3db" stroke-width="0.2" font-weight="normal" text-anchor="start" textLength="36.4" lengthAdjust="spacingAndGlyphs" >1.04000</text>
<defs><clipPath id="cr"><rect x="1367" y="604" width="54" height="78.5"/></clipPath></defs>
<text x="1375" y="629.6" font-size="10.0" fill="#d0d3db" stroke="#d0d3db" stroke-width="0.2" font-weight="normal" text-anchor="start" textLength="25.5" lengthAdjust="spacingAndGlyphs" clip-path="url(#cr)">60.00</text>
<text x="1375" y="657.9" font-size="10.0" fill="#d0d3db" stroke="#d0d3db" stroke-width="0.2" font-weight="normal" text-anchor="start" textLength="25.5" lengthAdjust="spacingAndGlyphs" clip-path="url(#cr)">40.00</text>
<text x="1375" y="686.1" font-size="10.0" fill="#d0d3db" stroke="#d0d3db" stroke-width="0.2" font-weight="normal" text-anchor="start" textLength="25.5" lengthAdjust="spacingAndGlyphs" clip-path="url(#cr)">20.00</text>
<rect x="1367" y="364.3" width="50" height="15.6" rx="1" fill="#ef5350"/>
<text x="1375" y="375.7" font-size="10.0" fill="#ffffff" stroke="#ffffff" stroke-width="0.35" font-weight="normal" text-anchor="start" textLength="36.4" lengthAdjust="spacingAndGlyphs" >1.07694</text>
<text x="56.5" y="700.1" font-size="10.4" fill="#d0d3db" stroke="#d0d3db" stroke-width="0.15" font-weight="normal" text-anchor="middle" >Jun</text>
<text x="160.0" y="700.1" font-size="10.4" fill="#d0d3db" stroke="#d0d3db" stroke-width="0.15" font-weight="normal" text-anchor="middle" >Jul</text>
<text x="258.7" y="700.1" font-size="10.4" fill="#d0d3db" stroke="#d0d3db" stroke-width="0.15" font-weight="normal" text-anchor="middle" >Aug</text>
<text x="366.9" y="700.1" font-size="10.4" fill="#d0d3db" stroke="#d0d3db" stroke-width="0.15" font-weight="normal" text-anchor="middle" >Sep</text>
<text x="465.7" y="700.1" font-size="10.4" fill="#d0d3db" stroke="#d0d3db" stroke-width="0.15" font-weight="normal" text-anchor="middle" >Oct</text>
<text x="569.1" y="700.1" font-size="10.4" fill="#d0d3db" stroke="#d0d3db" stroke-width="0.15" font-weight="normal" text-anchor="middle" >Nov</text>
<text x="672.6" y="700.1" font-size="10.4" fill="#d0d3db" stroke="#d0d3db" stroke-width="0.15" font-weight="normal" text-anchor="middle" >Dec</text>
<text x="771.4" y="700.1" font-size="10.4" fill="#d0d3db" stroke="#d0d3db" stroke-width="0.15" font-weight="normal" text-anchor="middle" >2024</text>
<text x="879.5" y="700.1" font-size="10.4" fill="#d0d3db" stroke="#d0d3db" stroke-width="0.15" font-weight="normal" text-anchor="middle" >Feb</text>
<text x="978.3" y="700.1" font-size="10.4" fill="#d0d3db" stroke="#d0d3db" stroke-width="0.15" font-weight="normal" text-anchor="middle" >Mar</text>
<text x="1077.1" y="700.1" font-size="10.4" fill="#d0d3db" stroke="#d0d3db" stroke-width="0.15" font-weight="normal" text-anchor="middle" >Apr</text>
<text x="1180.5" y="700.1" font-size="10.4" fill="#d0d3db" stroke="#d0d3db" stroke-width="0.15" font-weight="normal" text-anchor="middle" >May</text>
<text x="1288.7" y="700.1" font-size="10.4" fill="#d0d3db" stroke="#d0d3db" stroke-width="0.15" font-weight="normal" text-anchor="middle" >Jun</text>
<text x="9" y="17.1" font-size="10.2" fill="#cdd0d8" stroke="#cdd0d8" stroke-width="0.15" font-weight="normal" text-anchor="start" textLength="330.5" lengthAdjust="spacingAndGlyphs" >dacolmanfx published on TradingView.com, May 11, 2024 13:11 UTC-4</text>
<text x="16" y="40.8" font-size="10.2" fill="#cdd0d8" stroke="#cdd0d8" stroke-width="0.15" font-weight="normal" text-anchor="start" textLength="122.7" lengthAdjust="spacingAndGlyphs" >Euro / U.S. Dollar, 1D, ICE</text>
<text x="146.1" y="40.8" font-size="10.2" fill="#cdd0d8" stroke="#cdd0d8" stroke-width="0.15" font-weight="normal" text-anchor="start" >O</text>
<text x="153.9" y="40.8" font-size="10.2" fill="#ef5350" stroke="#ef5350" stroke-width="0.15" font-weight="normal" text-anchor="start" textLength="36" lengthAdjust="spacingAndGlyphs" >1.07814</text>
<text x="196.5" y="40.8" font-size="10.2" fill="#cdd0d8" stroke="#cdd0d8" stroke-width="0.15" font-weight="normal" text-anchor="start" >H</text>
<text x="204.3" y="40.8" font-size="10.2" fill="#ef5350" stroke="#ef5350" stroke-width="0.15" font-weight="normal" text-anchor="start" textLength="36" lengthAdjust="spacingAndGlyphs" >1.07901</text>
<text x="247" y="40.8" font-size="10.2" fill="#cdd0d8" stroke="#cdd0d8" stroke-width="0.15" font-weight="normal" text-anchor="start" >L</text>
<text x="253" y="40.8" font-size="10.2" fill="#ef5350" stroke="#ef5350" stroke-width="0.15" font-weight="normal" text-anchor="start" textLength="36" lengthAdjust="spacingAndGlyphs" >1.07604</text>
<text x="296" y="40.8" font-size="10.2" fill="#cdd0d8" stroke="#cdd0d8" stroke-width="0.15" font-weight="normal" text-anchor="start" >C</text>
<text x="303.5" y="40.8" font-size="10.2" fill="#ef5350" stroke="#ef5350" stroke-width="0.15" font-weight="normal" text-anchor="start" textLength="36" lengthAdjust="spacingAndGlyphs" >1.07694</text>
<text x="345.7" y="40.8" font-size="10.2" fill="#ef5350" stroke="#ef5350" stroke-width="0.15" font-weight="normal" text-anchor="start" textLength="85.6" lengthAdjust="spacingAndGlyphs" >−0.00123 (−0.11%)</text>
<text x="185.5" y="75" font-size="14" fill="#ffffff" font-weight="bold" text-anchor="start" textLength="71" lengthAdjust="spacingAndGlyphs" >2023 highs</text>
<text x="717.6" y="153.6" font-size="14" fill="#ffffff" font-weight="bold" text-anchor="start" textLength="102.8" lengthAdjust="spacingAndGlyphs" >December 2023</text>
<text x="449.8" y="571.4" font-size="14" fill="#ffffff" font-weight="bold" text-anchor="start" textLength="65.6" lengthAdjust="spacingAndGlyphs" >2023 lows</text>
<text x="1272" y="81.5" font-size="10.2" fill="#ffffff" stroke="#ffffff" stroke-width="0.55" font-weight="normal" text-anchor="start" textLength="85.5" lengthAdjust="spacingAndGlyphs" >100.00% (1.12806)</text>
<text x="1272" y="313.0" font-size="10.2" fill="#ffffff" stroke="#ffffff" stroke-width="0.55" font-weight="normal" text-anchor="start" textLength="80" lengthAdjust="spacingAndGlyphs" >50.00% (1.08650)</text>
<text x="1272" y="543.9" font-size="10.2" fill="#ffffff" stroke="#ffffff" stroke-width="0.55" font-weight="normal" text-anchor="start" textLength="75" lengthAdjust="spacingAndGlyphs" >0.00% (1.04494)</text>
<path d="M9,718.5H16.1V726.8H12.1V722.1H9z M21.6,718.5H26.2L22.8,726.8H18.9z" fill="#d5d7df"/><circle cx="18.3" cy="720.1" r="1.45" fill="#d5d7df"/>
<text x="29.2" y="727.8" font-size="11.2" fill="#d5d7df" font-weight="bold" text-anchor="start" textLength="62" lengthAdjust="spacingAndGlyphs" >TradingView</text>
<defs><mask id="wmm" maskUnits="userSpaceOnUse" x="1170" y="630" width="259" height="109"><rect x="1170" y="630" width="259" height="109" fill="#fff"/><g fill="#000"><path d="M1197.5,647.7 L1205.3,647.7 L1204.0,661.7 L1194.6,659.6Z M1191.1,664.7 L1202.7,664.7 L1201.1,676.4 L1189.1,676.4Z M1192.6,679.3 L1200.4,679.3 L1194.6,699.8 L1185.2,699.8Z M1214.1,646.2 L1225.5,646.2 L1224.3,649.3 L1246.2,649.3 L1244.0,656.6 L1206.7,656.6 L1210.0,650.0Z M1200.7,675.3 L1205.0,675.3 L1203.5,682.8 L1199.3,682.8Z M1256.0,646.8 L1304.8,646.8 L1303.0,654.6 L1254.2,654.6Z M1254.2,654.6 L1262.3,654.6 L1259.2,669.3 L1250.5,669.3Z M1250.5,669.1 L1297.4,669.1 L1295.7,676.4 L1248.9,676.4Z M1294.5,653.6 L1303.3,653.6 L1292.1,700.2 L1267.8,700.2 L1269.0,693.5 L1284.8,693.5Z M1246.0,683.5 L1285.4,683.5 L1283.7,690.2 L1244.1,690.2Z M1314.1,647.1 L1339.6,647.1 L1330.4,686.8 L1322.8,686.8 L1329.9,656.4 L1318.9,656.4 L1311.5,685.6 L1303.8,685.6Z M1320.7,658.3 L1328.0,658.3 L1321.3,684.0 L1327.0,699.7 L1316.6,699.7 L1314.2,692.3 L1309.5,699.7 L1299.9,699.7 L1313.1,685.2Z M1341.1,653.7 L1366.1,653.7 L1364.1,661.1 L1339.2,661.1Z M1358.8,647.2 L1367.3,647.2 L1355.0,697.4 L1352.4,700.1 L1339.8,700.1 L1341.6,693.3 L1347.5,693.3Z M1345.3,661.1 L1354.1,661.1 L1338.1,700.1 L1327.2,700.1Z M1383.9,647.1 L1392.7,647.1 L1381.5,662.0 L1395.0,659.7 L1393.5,670.0 L1369.6,670.0 L1370.9,665.2Z M1381.5,670.0 L1392.5,670.0 L1382.9,680.9 L1387.2,680.9 L1385.9,686.9 L1364.9,686.9 L1365.8,683.6Z M1362.9,692.6 L1384.0,692.6 L1381.9,699.9 L1360.8,699.9Z M1400.8,647.1 L1427.2,647.1 L1425.8,653.8 L1408.4,667.5 L1391.9,667.5 L1412.0,653.8 L1399.4,653.8Z M1415.7,661.9 L1422.5,667.4 L1422.2,667.5 L1408.6,667.5Z M1391.7,667.5 L1422.2,667.5 L1420.8,674.0 L1390.8,674.0Z M1384.3,676.3 L1420.1,676.3 L1418.6,682.1 L1382.9,682.1Z M1400.8,682.1 L1409.4,682.1 L1406.3,692.6 L1397.6,692.6Z M1385.1,692.6 L1415.1,692.6 L1413.2,699.9 L1382.9,699.9Z"/><path d="M1205.8,659.6 L1243.0,659.6 L1235.7,695.5 L1231.0,699.6 L1198.2,699.6Z M1215.0,665.7 L1216.4,665.7 L1218.7,674.8 L1212.0,674.8Z M1222.8,665.7 L1232.0,665.7 L1229.9,674.8 L1225.2,674.8Z M1210.5,682.8 L1212.0,682.8 L1213.8,692.8 L1207.3,692.8Z M1219.3,682.8 L1227.5,682.8 L1225.0,692.8 L1221.7,692.8Z" fill-rule="evenodd"/></g></mask></defs>
<g mask="url(#wmm)"><g transform="translate(1.2,1.2)" fill="#04060b" opacity="0.6"><path d="M1197.5,647.7 L1205.3,647.7 L1204.0,661.7 L1194.6,659.6Z M1191.1,664.7 L1202.7,664.7 L1201.1,676.4 L1189.1,676.4Z M1192.6,679.3 L1200.4,679.3 L1194.6,699.8 L1185.2,699.8Z M1214.1,646.2 L1225.5,646.2 L1224.3,649.3 L1246.2,649.3 L1244.0,656.6 L1206.7,656.6 L1210.0,650.0Z M1200.7,675.3 L1205.0,675.3 L1203.5,682.8 L1199.3,682.8Z M1256.0,646.8 L1304.8,646.8 L1303.0,654.6 L1254.2,654.6Z M1254.2,654.6 L1262.3,654.6 L1259.2,669.3 L1250.5,669.3Z M1250.5,669.1 L1297.4,669.1 L1295.7,676.4 L1248.9,676.4Z M1294.5,653.6 L1303.3,653.6 L1292.1,700.2 L1267.8,700.2 L1269.0,693.5 L1284.8,693.5Z M1246.0,683.5 L1285.4,683.5 L1283.7,690.2 L1244.1,690.2Z M1314.1,647.1 L1339.6,647.1 L1330.4,686.8 L1322.8,686.8 L1329.9,656.4 L1318.9,656.4 L1311.5,685.6 L1303.8,685.6Z M1320.7,658.3 L1328.0,658.3 L1321.3,684.0 L1327.0,699.7 L1316.6,699.7 L1314.2,692.3 L1309.5,699.7 L1299.9,699.7 L1313.1,685.2Z M1341.1,653.7 L1366.1,653.7 L1364.1,661.1 L1339.2,661.1Z M1358.8,647.2 L1367.3,647.2 L1355.0,697.4 L1352.4,700.1 L1339.8,700.1 L1341.6,693.3 L1347.5,693.3Z M1345.3,661.1 L1354.1,661.1 L1338.1,700.1 L1327.2,700.1Z M1383.9,647.1 L1392.7,647.1 L1381.5,662.0 L1395.0,659.7 L1393.5,670.0 L1369.6,670.0 L1370.9,665.2Z M1381.5,670.0 L1392.5,670.0 L1382.9,680.9 L1387.2,680.9 L1385.9,686.9 L1364.9,686.9 L1365.8,683.6Z M1362.9,692.6 L1384.0,692.6 L1381.9,699.9 L1360.8,699.9Z M1400.8,647.1 L1427.2,647.1 L1425.8,653.8 L1408.4,667.5 L1391.9,667.5 L1412.0,653.8 L1399.4,653.8Z M1415.7,661.9 L1422.5,667.4 L1422.2,667.5 L1408.6,667.5Z M1391.7,667.5 L1422.2,667.5 L1420.8,674.0 L1390.8,674.0Z M1384.3,676.3 L1420.1,676.3 L1418.6,682.1 L1382.9,682.1Z M1400.8,682.1 L1409.4,682.1 L1406.3,692.6 L1397.6,692.6Z M1385.1,692.6 L1415.1,692.6 L1413.2,699.9 L1382.9,699.9Z"/><path d="M1205.8,659.6 L1243.0,659.6 L1235.7,695.5 L1231.0,699.6 L1198.2,699.6Z M1215.0,665.7 L1216.4,665.7 L1218.7,674.8 L1212.0,674.8Z M1222.8,665.7 L1232.0,665.7 L1229.9,674.8 L1225.2,674.8Z M1210.5,682.8 L1212.0,682.8 L1213.8,692.8 L1207.3,692.8Z M1219.3,682.8 L1227.5,682.8 L1225.0,692.8 L1221.7,692.8Z" fill-rule="evenodd"/></g></g>
<g fill="#d2d2d8" opacity="0.68"><path d="M1197.5,647.7 L1205.3,647.7 L1204.0,661.7 L1194.6,659.6Z M1191.1,664.7 L1202.7,664.7 L1201.1,676.4 L1189.1,676.4Z M1192.6,679.3 L1200.4,679.3 L1194.6,699.8 L1185.2,699.8Z M1214.1,646.2 L1225.5,646.2 L1224.3,649.3 L1246.2,649.3 L1244.0,656.6 L1206.7,656.6 L1210.0,650.0Z M1200.7,675.3 L1205.0,675.3 L1203.5,682.8 L1199.3,682.8Z M1256.0,646.8 L1304.8,646.8 L1303.0,654.6 L1254.2,654.6Z M1254.2,654.6 L1262.3,654.6 L1259.2,669.3 L1250.5,669.3Z M1250.5,669.1 L1297.4,669.1 L1295.7,676.4 L1248.9,676.4Z M1294.5,653.6 L1303.3,653.6 L1292.1,700.2 L1267.8,700.2 L1269.0,693.5 L1284.8,693.5Z M1246.0,683.5 L1285.4,683.5 L1283.7,690.2 L1244.1,690.2Z M1314.1,647.1 L1339.6,647.1 L1330.4,686.8 L1322.8,686.8 L1329.9,656.4 L1318.9,656.4 L1311.5,685.6 L1303.8,685.6Z M1320.7,658.3 L1328.0,658.3 L1321.3,684.0 L1327.0,699.7 L1316.6,699.7 L1314.2,692.3 L1309.5,699.7 L1299.9,699.7 L1313.1,685.2Z M1341.1,653.7 L1366.1,653.7 L1364.1,661.1 L1339.2,661.1Z M1358.8,647.2 L1367.3,647.2 L1355.0,697.4 L1352.4,700.1 L1339.8,700.1 L1341.6,693.3 L1347.5,693.3Z M1345.3,661.1 L1354.1,661.1 L1338.1,700.1 L1327.2,700.1Z M1383.9,647.1 L1392.7,647.1 L1381.5,662.0 L1395.0,659.7 L1393.5,670.0 L1369.6,670.0 L1370.9,665.2Z M1381.5,670.0 L1392.5,670.0 L1382.9,680.9 L1387.2,680.9 L1385.9,686.9 L1364.9,686.9 L1365.8,683.6Z M1362.9,692.6 L1384.0,692.6 L1381.9,699.9 L1360.8,699.9Z M1400.8,647.1 L1427.2,647.1 L1425.8,653.8 L1408.4,667.5 L1391.9,667.5 L1412.0,653.8 L1399.4,653.8Z M1415.7,661.9 L1422.5,667.4 L1422.2,667.5 L1408.6,667.5Z M1391.7,667.5 L1422.2,667.5 L1420.8,674.0 L1390.8,674.0Z M1384.3,676.3 L1420.1,676.3 L1418.6,682.1 L1382.9,682.1Z M1400.8,682.1 L1409.4,682.1 L1406.3,692.6 L1397.6,692.6Z M1385.1,692.6 L1415.1,692.6 L1413.2,699.9 L1382.9,699.9Z"/><path d="M1205.8,659.6 L1243.0,659.6 L1235.7,695.5 L1231.0,699.6 L1198.2,699.6Z M1215.0,665.7 L1216.4,665.7 L1218.7,674.8 L1212.0,674.8Z M1222.8,665.7 L1232.0,665.7 L1229.9,674.8 L1225.2,674.8Z M1210.5,682.8 L1212.0,682.8 L1213.8,692.8 L1207.3,692.8Z M1219.3,682.8 L1227.5,682.8 L1225.0,692.8 L1221.7,692.8Z" fill-rule="evenodd"/></g>
<g fill="#03050a" stroke="#03050a" stroke-width="2.0" stroke-linejoin="round" opacity="0.5" transform="translate(1.2,1.2)"><text transform="translate(1195.91,731.8) scale(1.190,1)" font-size="27.6" font-weight="bold" font-style="italic" vector-effect="non-scaling-stroke">z</text><text transform="translate(1222.57,731.8) scale(1.216,1)" font-size="27.6" font-weight="bold" font-style="italic" vector-effect="non-scaling-stroke">z</text><text transform="translate(1250.14,731.8) scale(1.192,1)" font-size="27.6" font-weight="bold" font-style="italic" vector-effect="non-scaling-stroke">r</text><text transform="translate(1273.62,731.8) scale(1.238,1)" font-size="27.6" font-weight="bold" font-style="italic" vector-effect="non-scaling-stroke">t</text><text transform="translate(1293.78,731.8) scale(1.227,1)" font-size="27.6" font-weight="bold" font-style="italic" vector-effect="non-scaling-stroke">0</text><text transform="translate(1330.53,731.8) scale(0.695,1)" font-size="27.6" font-weight="bold" font-style="italic" vector-effect="non-scaling-stroke">1</text><text transform="translate(1351.84,731.8) scale(1.245,1)" font-size="27.6" font-weight="bold" font-style="italic" vector-effect="non-scaling-stroke">.</text><text transform="translate(1371.81,731.8) scale(1.034,1)" font-size="27.6" font-weight="bold" font-style="italic" vector-effect="non-scaling-stroke">c</text><text transform="translate(1396.48,731.8) scale(1.239,1)" font-size="27.6" font-weight="bold" font-style="italic" vector-effect="non-scaling-stroke">n</text></g>
<g fill="#1b5b98" stroke="#1b5b98" stroke-width="2.0" stroke-linejoin="round"><text transform="translate(1195.91,731.8) scale(1.190,1)" font-size="27.6" font-weight="bold" font-style="italic" vector-effect="non-scaling-stroke">z</text><text transform="translate(1222.57,731.8) scale(1.216,1)" font-size="27.6" font-weight="bold" font-style="italic" vector-effect="non-scaling-stroke">z</text><text transform="translate(1250.14,731.8) scale(1.192,1)" font-size="27.6" font-weight="bold" font-style="italic" vector-effect="non-scaling-stroke">r</text><text transform="translate(1273.62,731.8) scale(1.238,1)" font-size="27.6" font-weight="bold" font-style="italic" vector-effect="non-scaling-stroke">t</text><text transform="translate(1293.78,731.8) scale(1.227,1)" font-size="27.6" font-weight="bold" font-style="italic" vector-effect="non-scaling-stroke">0</text><text transform="translate(1330.53,731.8) scale(0.695,1)" font-size="27.6" font-weight="bold" font-style="italic" vector-effect="non-scaling-stroke">1</text><text transform="translate(1351.84,731.8) scale(1.245,1)" font-size="27.6" font-weight="bold" font-style="italic" vector-effect="non-scaling-stroke">.</text><text transform="translate(1371.81,731.8) scale(1.034,1)" font-size="27.6" font-weight="bold" font-style="italic" vector-effect="non-scaling-stroke">c</text><text transform="translate(1396.48,731.8) scale(1.239,1)" font-size="27.6" font-weight="bold" font-style="italic" vector-effect="non-scaling-stroke">n</text></g>
</svg>
</body></html>
